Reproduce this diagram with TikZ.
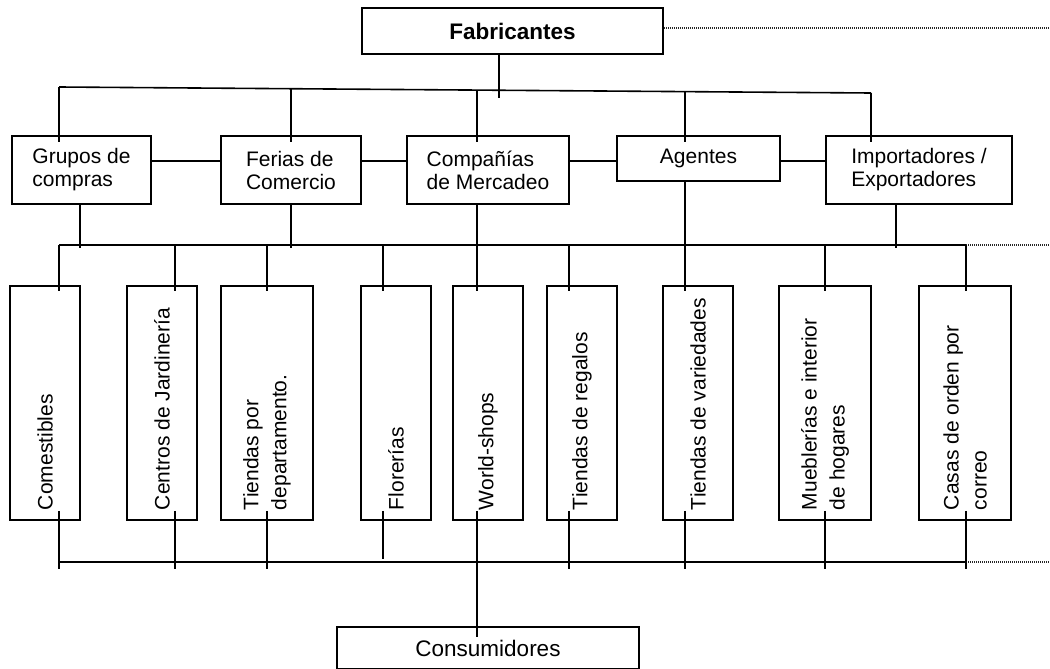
\documentclass[tikz,border=0pt]{standalone}
\usepackage{fontspec}
\setmainfont{Liberation Sans}
\usetikzlibrary{calc}

\tikzset{
  box/.style={draw, line width=1.6pt, inner sep=0pt, align=left, font=\fontsize{21}{23}\selectfont},
  shop/.style={draw, line width=1.6pt, inner xsep=0pt, inner ysep=10pt, minimum height=234pt, font=\fontsize{21}{28}\selectfont},
  link/.style={line width=1.6pt},
  dots/.style={line width=1.2pt, dash pattern=on 1pt off 1pt, black!85}
}
\newcommand{\vtext}[1]{\rotatebox{90}{\parbox{214pt}{\raggedright #1}}}

\begin{document}
\begin{tikzpicture}[x=1pt, y=-1pt]
        \useasboundingbox (0,0) rectangle (1050,669);

        % boxes
        \node[box, minimum width=301pt, minimum height=46pt, font=\bfseries\fontsize{22.5}{25}\selectfont] (fab) at (512.5,31) {Fabricantes};

        \node[box, minimum width=139pt, minimum height=68pt] (grupos) at (81.5,170) {Grupos de\\compras};
        \node[box, minimum width=140pt, minimum height=68pt] (ferias) at (291,170) {Ferias de\\Comercio};
        \node[box, minimum width=162pt, minimum height=68pt] (comp) at (488,170) {Compañías\\de Mercadeo};
        \node[box, minimum width=163pt, minimum height=45pt] (agen) at (698.5,158.5) {Agentes};
        \node[box, minimum width=186pt, minimum height=68pt] (impo) at (919,170) {Importadores /\\Exportadores};

        \node[shop, minimum width=70pt] (com) at (45,403) {\vtext{Comestibles}};
        \node[shop, minimum width=70pt] (cen) at (162,403) {\vtext{Centros de Jardinería}};
        \node[shop, minimum width=92pt] (tdep) at (267,403) {\vtext{Tiendas por\\departamento.}};
        \node[shop, minimum width=70pt] (flo) at (396,403) {\vtext{Florerías}};
        \node[shop, minimum width=70pt] (ws) at (488,403) {\vtext{World-shops}};
        \node[shop, minimum width=70pt] (reg) at (582,403) {\vtext{Tiendas de regalos}};
        \node[shop, minimum width=70pt] (var) at (698,403) {\vtext{Tiendas de variedades}};
        \node[shop, minimum width=92pt] (mue) at (825,403) {\vtext{Mueblerías e interior\\de hogares}};
        \node[shop, minimum width=92pt] (cas) at (965,403) {\vtext{Casas de orden por\\correo}};

        \node[box, minimum width=302pt, minimum height=42pt, font=\fontsize{22.5}{25}\selectfont] (cons) at (488,648) {Consumidores};

        % junctions
        \coordinate (fd) at (1050,28);
        \coordinate (fs) at (499,98);
        \coordinate (tl) at (59,87);
        \coordinate (tr) at (871,93);
        \coordinate (t2) at (291,88.7);
        \coordinate (t3) at (477,90.1);
        \coordinate (t4) at (685,91.6);
        \coordinate (h) at (0,161);

        \coordinate (s1) at (80,248);
        \coordinate (s2) at (291,248);
        \coordinate (s5) at (896,248);

        \coordinate (m1) at (59,245);
        \coordinate (m2) at (175,245);
        \coordinate (m3) at (267,245);
        \coordinate (m4) at (383,245);
        \coordinate (m5) at (477,245);
        \coordinate (m6) at (569,245);
        \coordinate (m7) at (685,245);
        \coordinate (m8) at (825,245);
        \coordinate (m9) at (966,245);
        \coordinate (me) at (1050,245);

        \coordinate (n1) at (59,569);
        \coordinate (n2) at (175,569);
        \coordinate (n3) at (267,569);
        \coordinate (n4) at (383,559);
        \coordinate (n5) at (477,562);
        \coordinate (n6) at (569,569);
        \coordinate (n7) at (685,569);
        \coordinate (n8) at (825,569);
        \coordinate (n9) at (966,569);
        \coordinate (bl) at (59,562);
        \coordinate (br) at (966,562);
        \coordinate (be) at (1050,562);

        % top level
        \draw[dots] (fab.east |- fd) -- (fd);
        \draw[link] (fs |- fab.south) -- (fs);
        \draw[link] (tl) -- (tr);
        \draw[link] (tl) -- ([yshift=-7pt]tl |- grupos.north);
        \draw[link] (t2) -- ([yshift=-7pt]t2 |- ferias.north);
        \draw[link] (t3) -- ([yshift=-7pt]t3 |- comp.north);
        \draw[link] (t4) -- ([yshift=-7pt]t4 |- agen.north);
        \draw[link] (tr) -- ([yshift=-7pt]tr |- impo.north);

        \draw[link] (grupos.east |- h) -- (ferias.west |- h);
        \draw[link] (ferias.east |- h) -- (comp.west |- h);
        \draw[link] (comp.east |- h) -- (agen.west |- h);
        \draw[link] (agen.east |- h) -- (impo.west |- h);

        % middle bus
        \draw[link] (s1 |- grupos.south) -- (s1);
        \draw[link] (s2 |- ferias.south) -- (s2);
        \draw[link] (s5 |- impo.south) -- (s5);
        \draw[link] (m1) -- (m9);
        \draw[dots] (m9) -- (me);

        \draw[link] (m1) -- ([yshift=-6pt]m1 |- com.north);
        \draw[link] (m2) -- ([yshift=-6pt]m2 |- cen.north);
        \draw[link] (m3) -- ([yshift=-6pt]m3 |- tdep.north);
        \draw[link] (m4) -- ([yshift=-6pt]m4 |- flo.north);
        \draw[link] (m5 |- comp.south) -- ([yshift=-6pt]m5 |- ws.north);
        \draw[link] (m6) -- ([yshift=-6pt]m6 |- reg.north);
        \draw[link] (m7 |- agen.south) -- ([yshift=-6pt]m7 |- var.north);
        \draw[link] (m8) -- ([yshift=-6pt]m8 |- mue.north);
        \draw[link] (m9) -- ([yshift=-6pt]m9 |- cas.north);

        % bottom bus
        \draw[link] (bl) -- (br);
        \draw[dots] (br) -- (be);
        \draw[link] ([yshift=10pt]n1 |- com.south) -- (n1);
        \draw[link] ([yshift=10pt]n2 |- cen.south) -- (n2);
        \draw[link] ([yshift=10pt]n3 |- tdep.south) -- (n3);
        \draw[link] ([yshift=10pt]n4 |- flo.south) -- (n4);
        \draw[link] ([yshift=10pt]n5 |- ws.south) -- ([yshift=-11pt]n5 |- cons.north);
        \draw[link] ([yshift=10pt]n6 |- reg.south) -- (n6);
        \draw[link] ([yshift=10pt]n7 |- var.south) -- (n7);
        \draw[link] ([yshift=10pt]n8 |- mue.south) -- (n8);
        \draw[link] ([yshift=10pt]n9 |- cas.south) -- (n9);
\end{tikzpicture}
\end{document}
